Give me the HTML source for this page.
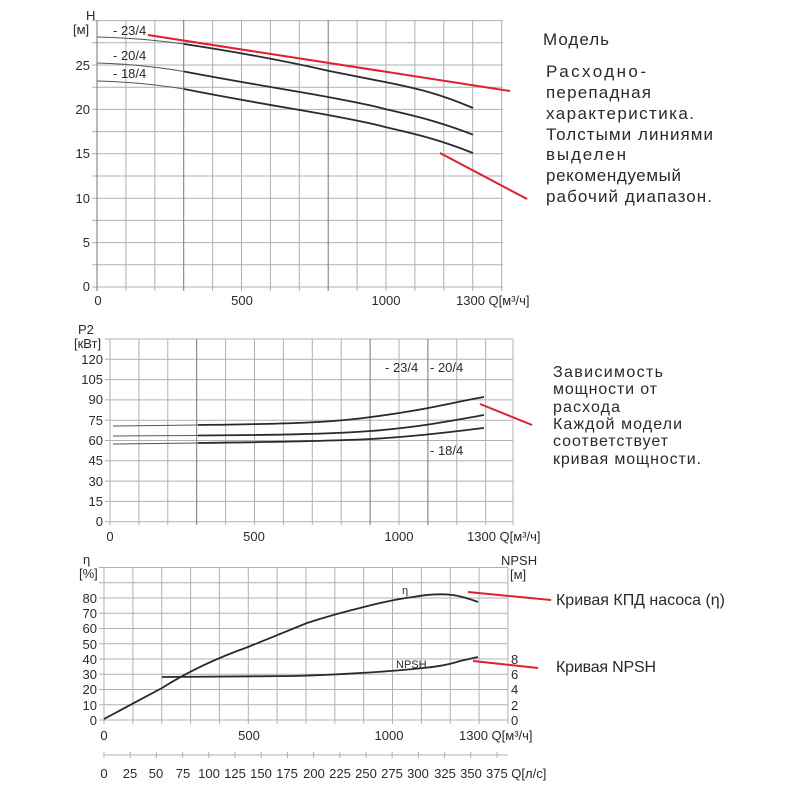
<!DOCTYPE html>
<html><head><meta charset="utf-8"><style>
html,body{margin:0;padding:0;background:#fff}
svg{display:block}
text{font-family:"Liberation Sans",sans-serif;fill:#2a2a2a}
.t{font-size:13px}
.r{text-anchor:end}
.m{text-anchor:middle}
.g{stroke:#b0b0b0;stroke-width:1;fill:none}
.gd{stroke:#777;stroke-width:1;fill:none}
.c{stroke:#2a2a2a;stroke-width:1.8;fill:none}
.cl{stroke:#555;stroke-width:1;fill:none}
.red{stroke:#e0202a;stroke-width:2;fill:none}
.big{font-size:17px}
.mid{font-size:16px}
</style></head><body>
<svg width="800" height="800" viewBox="0 0 800 800" xmlns="http://www.w3.org/2000/svg">
<!-- Chart 1 -->
<path class="g" d="M97 20V291M125.9 20V291M154.8 20V291M212.6 20V291M241.5 20V291M270.4 20V291M299.3 20V291M357.1 20V291M386 20V291M414.9 20V291M443.8 20V291M472.7 20V291M501.6 20V291
M92 287H503M92 264.8H503M92 242.6H503M92 220.4H503M92 198.2H503M92 176H503M92 153.8H503M92 131.6H503M92 109.4H503M92 87.2H503M92 65H503M92 42.8H503M92 20.6H503"/>
<path class="gd" d="M183.7 20V291M328.2 20V291M97 20V291"/>
<text class="t" x="86" y="20" >H</text>
<text class="t" x="73" y="34">[м]</text>
<text class="t r" x="90" y="291">0</text>
<text class="t r" x="90" y="247">5</text>
<text class="t r" x="90" y="203">10</text>
<text class="t r" x="90" y="158">15</text>
<text class="t r" x="90" y="114">20</text>
<text class="t r" x="90" y="70">25</text>
<text class="t m" x="98" y="305">0</text>
<text class="t m" x="242" y="305">500</text>
<text class="t m" x="386" y="305">1000</text>
<text class="t" x="456" y="305">1300 Q[м³/ч]</text>
<text class="t" x="113" y="35">- 23/4</text>
<text class="t" x="113" y="60">- 20/4</text>
<text class="t" x="113" y="78">- 18/4</text>
<path class="cl" d="M97 37 Q140 38 184 44"/>
<path class="c" d="M184 44 C250 54 290 62 328 70.7 C360 77 375 80 385 82 C420 89 440 94 473 108"/>
<path class="cl" d="M97 63 Q140 64 184 71.5"/>
<path class="c" d="M184 71.5 C250 84 290 90 328 97 C360 103 375 106 385 109 C420 117 440 122 473 134.7"/>
<path class="cl" d="M97 81 Q140 82 184 89"/>
<path class="c" d="M184 89 C250 102 290 108 328 115 C360 121 375 124 385 127 C420 135 440 140 473 153"/>
<path class="red" d="M148 35L510 91M440 153L527 199"/>
<text class="big" x="543" y="45" textLength="66">Модель</text>
<text class="big" x="546" y="77" textLength="100">Расходно-</text>
<text class="big" x="546" y="98" textLength="105">перепадная</text>
<text class="big" x="546" y="119" textLength="148">характеристика.</text>
<text class="big" x="546" y="140" textLength="167">Толстыми линиями</text>
<text class="big" x="546" y="160" textLength="80">выделен</text>
<text class="big" x="546" y="181" textLength="135">рекомендуемый</text>
<text class="big" x="546" y="202" textLength="166">рабочий диапазон.</text>
<!-- Chart 2 -->
<path class="g" d="M110 339V525M138.9 339V525M167.8 339V525M225.6 339V525M254.5 339V525M283.4 339V525M312.3 339V525M341.2 339V525M399 339V525M456.8 339V525M485.7 339V525M513 339V525
M105 521.7H513M105 501.4H513M105 481.1H513M105 460.8H513M105 440.5H513M105 420.2H513M105 399.9H513M105 379.6H513M105 359.3H513M105 339H513"/>
<path class="gd" d="M196.7 339V525M370.1 339V525M427.9 339V525"/>
<text class="t" x="78" y="334">P2</text>
<text class="t" x="74" y="348">[кВт]</text>
<text class="t r" x="103" y="526">0</text>
<text class="t r" x="103" y="506">15</text>
<text class="t r" x="103" y="486">30</text>
<text class="t r" x="103" y="465">45</text>
<text class="t r" x="103" y="445">60</text>
<text class="t r" x="103" y="425">75</text>
<text class="t r" x="103" y="404">90</text>
<text class="t r" x="103" y="384">105</text>
<text class="t r" x="103" y="364">120</text>
<text class="t m" x="110" y="541">0</text>
<text class="t m" x="254" y="541">500</text>
<text class="t m" x="399" y="541">1000</text>
<text class="t" x="467" y="541">1300 Q[м³/ч]</text>
<text class="t" x="385" y="372">- 23/4</text>
<text class="t" x="430" y="372">- 20/4</text>
<text class="t" x="430" y="455">- 18/4</text>
<path class="cl" d="M113 426 L198 425"/>
<path class="c" d="M198 425 C280 424 330 423 371 417 C420 411 450 403 484 397"/>
<path class="cl" d="M113 436 L198 435.5"/>
<path class="c" d="M198 435.5 C280 435 330 434 371 431 C420 427 450 421 484 415"/>
<path class="cl" d="M113 444 L198 443"/>
<path class="c" d="M198 443 C280 442 330 441 371 439 C420 436 450 432 484 428"/>
<path class="red" d="M480 404L532 425"/>
<text class="mid" x="553" y="377" textLength="110">Зависимость</text>
<text class="mid" x="553" y="394" textLength="104">мощности от</text>
<text class="mid" x="553" y="412" textLength="67">расхода</text>
<text class="mid" x="553" y="429" textLength="129">Каждой модели</text>
<text class="mid" x="553" y="446" textLength="115">соответствует</text>
<text class="mid" x="553" y="464" textLength="148">кривая мощности.</text>
<!-- Chart 3 -->
<path class="g" d="M104 568V724M132.9 568V724M161.7 568V724M190.6 568V724M219.4 568V724M248.3 568V724M277.1 568V724M306 568V724M334.8 568V724M363.7 568V724M392.5 568V724M421.4 568V724M450.2 568V724M479.1 568V724M507.9 568V724
M99 720H508M99 704.8H508M99 689.5H508M99 674.3H508M99 659H508M99 643.8H508M99 628.5H508M99 613.3H508M99 598H508M99 582.8H508M99 567.5H508"/>
<text class="t" x="83" y="564">η</text>
<text class="t" x="79" y="578">[%]</text>
<text class="t r" x="97" y="725">0</text>
<text class="t r" x="97" y="710">10</text>
<text class="t r" x="97" y="694">20</text>
<text class="t r" x="97" y="679">30</text>
<text class="t r" x="97" y="664">40</text>
<text class="t r" x="97" y="649">50</text>
<text class="t r" x="97" y="633">60</text>
<text class="t r" x="97" y="618">70</text>
<text class="t r" x="97" y="603">80</text>
<text class="t" x="501" y="565">NPSH</text>
<text class="t" x="510" y="579">[м]</text>
<text class="t" x="511" y="725">0</text>
<text class="t" x="511" y="710">2</text>
<text class="t" x="511" y="694">4</text>
<text class="t" x="511" y="679">6</text>
<text class="t" x="511" y="664">8</text>
<text class="t m" x="104" y="740">0</text>
<text class="t m" x="249" y="740">500</text>
<text class="t m" x="389" y="740">1000</text>
<text class="t" x="459" y="740">1300 Q[м³/ч]</text>
<text class="t" x="402" y="594" style="font-size:11px">η</text>
<text class="t" x="396" y="668" style="font-size:11px">NPSH</text>
<path class="c" d="M104 719 L162 688 Q200 664 248 647 Q280 634 307 623 Q335 614 360 608 Q390 600 413 597 Q435 593 453 595 Q465 597 478 602"/>
<path class="c" d="M162 677 L293 676 Q330 675 360 673 Q395 671 423 668 Q445 666 460 661 L478 657"/>
<path class="red" d="M468 592L551 600M473 661L538 668"/>
<text class="mid" x="556" y="605" textLength="169">Кривая КПД насоса (η)</text>
<text class="mid" x="556" y="672" textLength="100">Кривая NPSH</text>
<!-- lower axis -->
<path class="g" d="M104 755H508M104 752V758M130.2 752V758M156.4 752V758M182.6 752V758M208.8 752V758M235 752V758M261.2 752V758M287.4 752V758M313.6 752V758M339.8 752V758M366 752V758M392.2 752V758M418.4 752V758M444.6 752V758M470.8 752V758M497 752V758"/>
<text class="t m" x="104" y="778">0</text>
<text class="t m" x="130" y="778">25</text>
<text class="t m" x="156" y="778">50</text>
<text class="t m" x="183" y="778">75</text>
<text class="t m" x="209" y="778">100</text>
<text class="t m" x="235" y="778">125</text>
<text class="t m" x="261" y="778">150</text>
<text class="t m" x="287" y="778">175</text>
<text class="t m" x="314" y="778">200</text>
<text class="t m" x="340" y="778">225</text>
<text class="t m" x="366" y="778">250</text>
<text class="t m" x="392" y="778">275</text>
<text class="t m" x="418" y="778">300</text>
<text class="t m" x="445" y="778">325</text>
<text class="t m" x="471" y="778">350</text>
<text class="t" x="486" y="778">375 Q[л/с]</text>
</svg>
</body></html>
